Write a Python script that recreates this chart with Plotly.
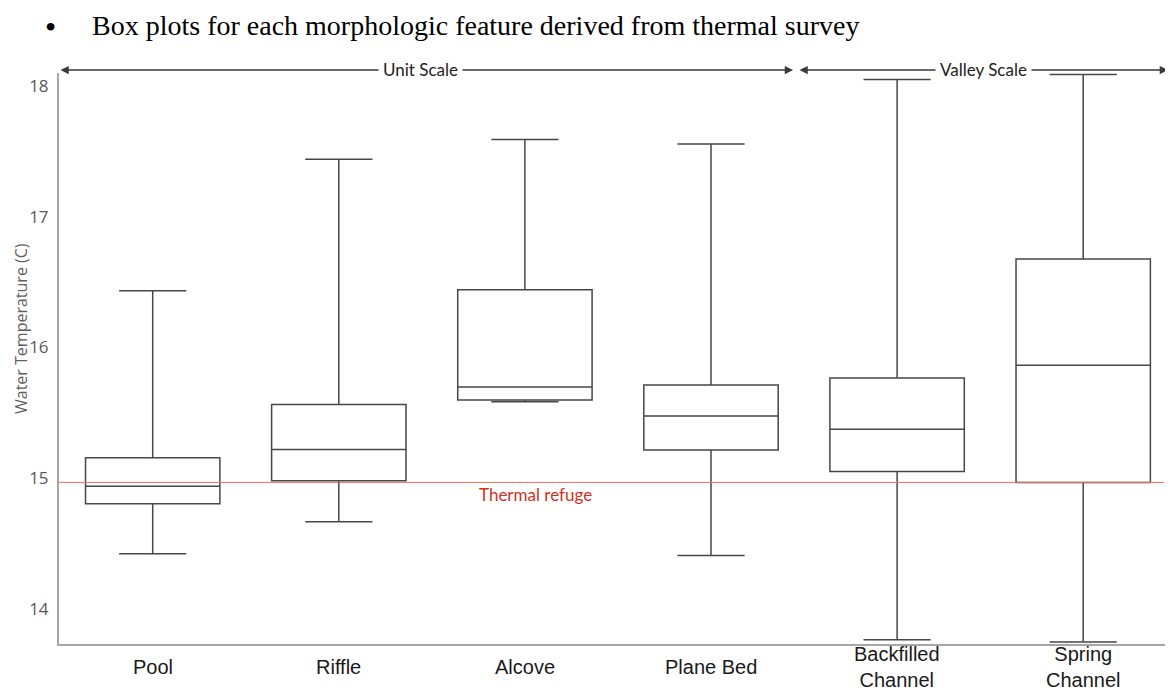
import plotly.graph_objects as go

# ---- data ----
categories = ["Pool", "Riffle", "Alcove", "Plane Bed", "Backfilled<br>Channel", "Spring<br>Channel"]
lower_whisker = [14.42, 14.665, 15.584, 14.407, 13.762, 13.745]
q1_values = [14.803, 14.979, 15.597, 15.214, 15.050, 14.966]
median_values = [14.936, 15.217, 15.697, 15.475, 15.372, 15.862]
q3_values = [15.155, 15.562, 16.440, 15.712, 15.766, 16.677]
upper_whisker = [16.434, 17.44, 17.590, 17.557, 18.050, 18.088]
thermal_refuge = 14.966
y_ticks = [14, 15, 16, 17, 18]

BOX_COLOR = "#474747"
AXIS_COLOR = "#a6a6a6"

fig = go.Figure()
fig.add_trace(go.Box(
    x=categories,
    q1=q1_values,
    median=median_values,
    q3=q3_values,
    lowerfence=lower_whisker,
    upperfence=upper_whisker,
    boxpoints=False,
    width=0.722,
    whiskerwidth=0.5,
    line=dict(color=BOX_COLOR, width=1.5),
    fillcolor="rgba(255,255,255,0)",
    showlegend=False,
    hoverinfo="skip",
))

# thermal refuge line
fig.add_shape(type="line", xref="paper", yref="y", x0=0, x1=0.992,
              y0=thermal_refuge, y1=thermal_refuge,
              line=dict(color="#e57262", width=1), layer="above")
fig.add_annotation(text="Thermal refuge", xref="paper", yref="y",
                   x=0.428, y=thermal_refuge, xanchor="center", yanchor="top", yshift=0,
                   showarrow=False,
                   font=dict(family="Lato, Open Sans, sans-serif", size=17, color="#d42f1d"))

# category labels (vertically centred like the reference)
for cat in categories:
    fig.add_annotation(text=cat, x=cat, xref="x", yref="paper", y=-0.040,
                       xanchor="center", yanchor="middle", showarrow=False,
                       font=dict(family="Liberation Sans, Arial, sans-serif", size=20, color="#1a1a1a"))

# y title
fig.add_annotation(text="Water Temperature (C)", textangle=-90, xref="paper", yref="paper",
                   x=(21 - 59) / 1114, y=(644 - 329) / 571, xanchor="center", yanchor="middle",
                   showarrow=False,
                   font=dict(family="Open Sans, sans-serif", size=16, color="#5f5f5f"))

# scale arrows
ARROW_Y = (644 - 70) / 571
def px_to_paper(px):
    return (px - 59) / 1114

for (x0, x1) in [(59, 793), (798, 1168)]:
    fig.add_annotation(text="", xref="paper", yref="paper", x=px_to_paper(x1), y=ARROW_Y,
                       ax=-(x1 - x0), ay=0, axref="pixel", ayref="pixel",
                       showarrow=True, arrowhead=2, arrowside="end+start",
                       arrowsize=1.1, arrowwidth=1.5, arrowcolor="#3a3a3a")
for label, cx in [("Unit Scale", 420), ("Valley Scale", 983)]:
    fig.add_annotation(text=label, xref="paper", yref="paper", x=px_to_paper(cx), y=ARROW_Y,
                       xanchor="center", yanchor="middle",
                       showarrow=False, bgcolor="white", borderpad=4,
                       font=dict(family="Lato, Open Sans, sans-serif", size=17, color="#222222"))

# bulleted heading
fig.add_annotation(text="•", xref="paper", yref="paper", x=px_to_paper(50), y=(644 - 27) / 571,
                   xanchor="center", yanchor="middle",
                   showarrow=False, font=dict(family="Liberation Serif, serif", size=32, color="black"))
fig.add_annotation(text="Box plots for each morphologic feature derived from thermal survey",
                   xref="paper", yref="paper", x=px_to_paper(90), y=(644 - 25) / 571,
                   xanchor="left", yanchor="middle", showarrow=False,
                   font=dict(family="Liberation Serif, Times New Roman, serif", size=28, color="black"))

# the page body adds an 8px offset; figure is sized so the plot lands on the reference pixels
fig.update_layout(
    width=1165, height=686,
    margin=dict(l=51, r=0, t=65, b=50),
    plot_bgcolor="white", paper_bgcolor="white",
    xaxis=dict(range=[-0.5035, 5.4825], showline=True, linecolor=AXIS_COLOR, linewidth=2,
               showgrid=False, zeroline=False, showticklabels=False, ticks=""),
    yaxis=dict(range=[13.729, 18.1], tickvals=y_ticks, showline=True, linecolor=AXIS_COLOR,
               linewidth=2, showgrid=False, zeroline=False, ticks="", ticklabelstandoff=5,
               tickfont=dict(family="Open Sans, sans-serif", size=17, color="#595959")),
)

fig.write_html("out.html")
